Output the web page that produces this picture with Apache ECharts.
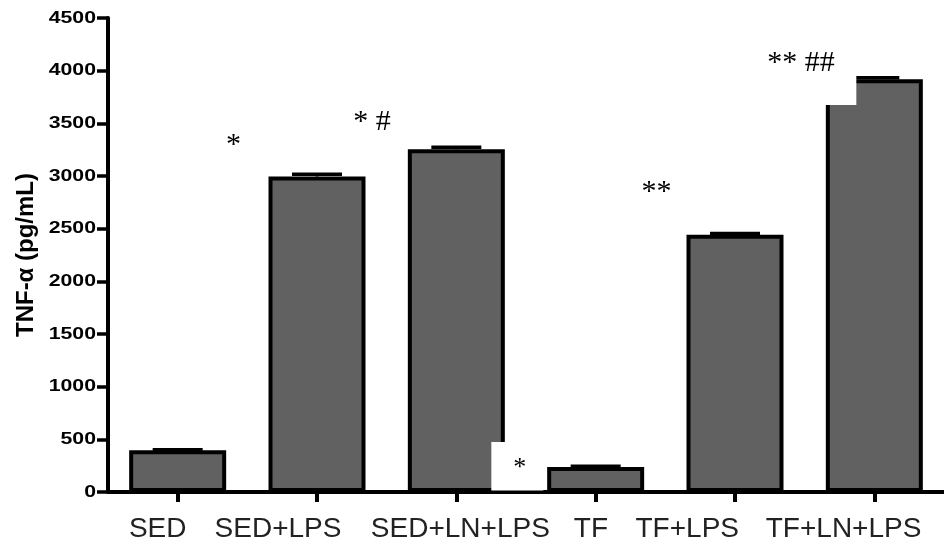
<!DOCTYPE html>
<html>
<head>
<meta charset="utf-8">
<script src="https://cdn.jsdelivr.net/npm/echarts@6/dist/echarts.min.js"></script>
<style>
  html, body { margin: 0; padding: 0; background: #fff; }
  #chart { width: 944px; height: 547px; }
</style>
</head>
<body>
<div id="chart"></div>
<script>
// Groups and TNF-α concentrations (pg/mL), mean with SEM
const categories = ['SED', 'SED+LPS', 'SED+LN+LPS', 'TF', 'TF+LPS', 'TF+LN+LPS'];
const means = [396, 2995, 3254, 238, 2443, 3919];
const sems = [5, 22, 19, 6, 12, 13];
const yTicks = [0, 500, 1000, 1500, 2000, 2500, 3000, 3500, 4000, 4500];

// Significance marks: text, group index, baseline level (pg/mL)
const marks = ['*', '* #', '*', '**', '** ##'];
const markGroup = [1, 2, 2, 4, 5];
const markLevel = [3197, 3418, 143, 2753, 3979];

// Layout / styling (pixels)
const markDx = [-91, -103, 57, -93.5, -107];
const markSize = [30, 30, 26, 30, 30];
const labelShift = [-20, -39, 4, -4.75, -47.75, -30.75];
const tickLabelGap = 12;

const chart = echarts.init(document.getElementById('chart'), null, { renderer: 'canvas' });

const rich = {};
labelShift.forEach((d, i) => {
  rich['c' + i] = {
    fontFamily: '"Liberation Sans", Arial, sans-serif',
    fontSize: 28,
    color: '#222',
    padding: d < 0 ? [0, -2 * d, 0, 0] : [0, 0, 0, 2 * d]
  };
});

chart.setOption({
  animation: false,
  backgroundColor: '#fff',
  grid: { left: 108, top: 18, width: 843, height: 474, containLabel: false },
  xAxis: {
    type: 'category',
    data: categories,
    axisLine: { show: true, lineStyle: { color: '#000', width: 4 } },
    axisTick: { show: true, alignWithLabel: true, length: 10, lineStyle: { color: '#000', width: 4 } },
    axisLabel: {
      margin: 23,
      interval: 0,
      formatter: (v, i) => '{c' + i + '|' + v + '}',
      rich: rich
    },
    splitLine: { show: false }
  },
  yAxis: {
    type: 'value',
    min: yTicks[0],
    max: yTicks[yTicks.length - 1],
    interval: yTicks[1] - yTicks[0],
    name: 'TNF-α (pg/mL)',
    nameLocation: 'middle',
    nameGap: 70,
    nameMoveOverlap: false,
    nameTextStyle: {
      fontFamily: '"Liberation Sans", Arial, sans-serif',
      fontWeight: 'bold',
      fontSize: 24,
      color: '#000'
    },
    axisLine: { show: true, lineStyle: { color: '#000', width: 4 } },
    axisTick: { show: true, inside: false, length: 11, lineStyle: { color: '#000', width: 3.5 } },
    axisLabel: { show: false },
    splitLine: { show: false }
  },
  series: [
    {
      type: 'custom',
      name: 'SEM',
      z: 1,
      data: means.map((m, i) => [i, m, m + sems[i]]),
      renderItem: (params, api) => {
        const top = api.coord([api.value(0), api.value(2)]);
        const base = api.coord([api.value(0), api.value(1)]);
        const half = 25;
        return {
          type: 'group',
          children: [
            { type: 'line', shape: { x1: top[0] - half, y1: top[1], x2: top[0] + half, y2: top[1] },
              style: { stroke: '#000', lineWidth: 3.5 } },
            { type: 'line', shape: { x1: top[0], y1: top[1], x2: base[0], y2: base[1] },
              style: { stroke: '#000', lineWidth: 3 } }
          ]
        };
      }
    },
    {
      type: 'bar',
      name: 'TNF-α',
      z: 2,
      data: means,
      barWidth: 97,
      itemStyle: { color: '#616161', borderColor: '#000', borderWidth: 4 }
    }
  ]
});

// Overlays, tick labels and significance marks placed through the axis scales
const px = (cat, val) => chart.convertToPixel({ gridIndex: 0 }, [cat, val]);
const graphics = [];

// value-axis tick labels: wide bold numerals
yTicks.forEach(v => {
  const p = px(0, v);
  graphics.push({
    type: 'text', z: 50, silent: true,
    x: 108 - tickLabelGap, y: p[1], scaleX: 1.25, scaleY: 1,
    style: {
      text: String(v), x: 0, y: 0,
      font: 'bold 17px "Liberation Sans", Arial, sans-serif',
      fill: '#000',
      align: 'right', textAlign: 'right',
      verticalAlign: 'middle', textVerticalAlign: 'middle'
    }
  });
});

// blank areas beside the SED+LN+LPS base and above the left of TF+LN+LPS
const a0 = px(2, 475), a1 = px(2, 15);
graphics.push({ type: 'rect', z: 100, silent: true,
  shape: { x: a0[0] + 35, y: a0[1], width: 52, height: a1[1] - a0[1] },
  style: { fill: '#fff' } });
const b0 = px(5, 3960), b1 = px(5, 3675);
graphics.push({ type: 'rect', z: 100, silent: true,
  shape: { x: b0[0] - 53, y: b0[1], width: 35, height: b1[1] - b0[1] },
  style: { fill: '#fff' } });

marks.forEach((t, i) => {
  const p = px(markGroup[i], markLevel[i]);
  const fs = markSize[i];
  graphics.push({
    type: 'text', z: 110, silent: true,
    style: {
      text: t,
      x: p[0] + markDx[i],
      y: p[1] - 0.3375 * fs,
      font: fs + 'px "Liberation Serif", "Times New Roman", serif',
      fill: '#000',
      align: 'left', textAlign: 'left',
      verticalAlign: 'middle', textVerticalAlign: 'middle'
    }
  });
});

chart.setOption({ graphic: graphics });
</script>
</body>
</html>
